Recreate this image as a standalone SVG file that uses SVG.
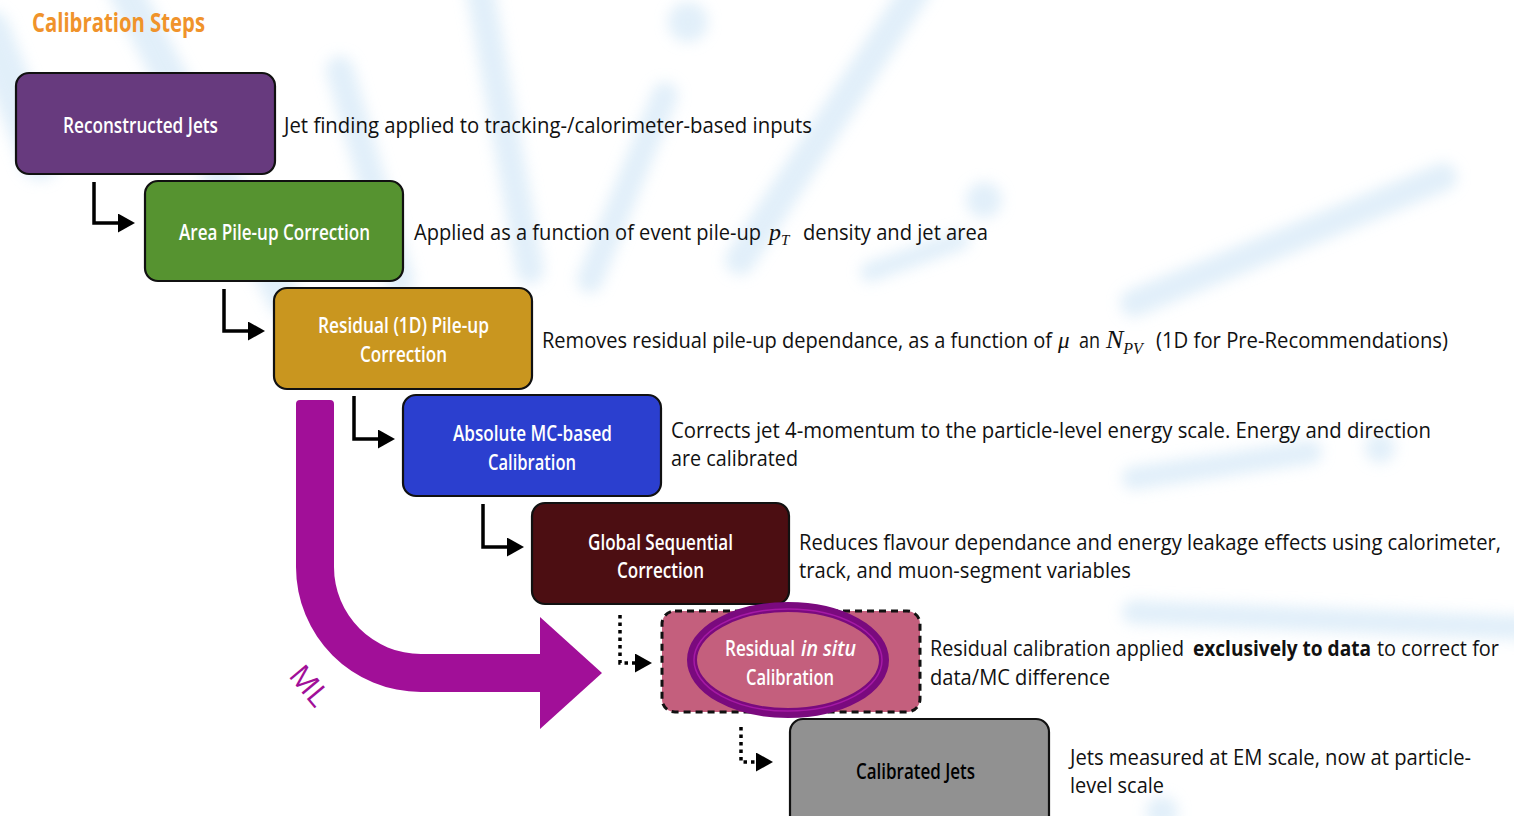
<svg xmlns="http://www.w3.org/2000/svg" width="1514" height="816" viewBox="0 0 1514 816">
<style>
.box{stroke:#111;stroke-width:2.2}
.lbl{font-family:"Open Sans","Liberation Sans",sans-serif;font-weight:600;font-size:22px;fill:#fff}
.dsc{font-family:"Open Sans","Liberation Sans",sans-serif;font-weight:500;font-size:22px;fill:#111}
.math{font-family:"Liberation Serif","DejaVu Serif",serif;font-style:italic;fill:#111}
.conn{fill:none;stroke:#000;stroke-width:3.5}
.dot{fill:none;stroke:#000;stroke-width:3.5;stroke-dasharray:3.5 4}
.bg{fill:none;stroke:#c9e2f5;stroke-linecap:round}
</style>
<defs>
<filter id="blur" x="-20%" y="-20%" width="140%" height="140%"><feGaussianBlur stdDeviation="7"/></filter>
<marker id="ah" viewBox="0 0 17 19" markerWidth="17" markerHeight="19" refX="1" refY="9.5" orient="auto" markerUnits="userSpaceOnUse"><path d="M0,0 L17,9.5 L0,19 Z" fill="#000"/></marker>
</defs>
<rect width="1514" height="816" fill="#fff"/>
<g id="background" filter="url(#blur)" opacity="0.55">
<path class="bg" d="M-10,30 L40,160" stroke-width="40"/>
<path class="bg" d="M125,-10 L285,300" stroke-width="34"/>
<path class="bg" d="M340,70 L400,280" stroke-width="28"/>
<path class="bg" d="M480,-10 L530,270" stroke-width="28"/>
<circle cx="688" cy="22" r="20" fill="#c9e2f5"/>
<path class="bg" d="M665,95 L590,280" stroke-width="26"/>
<path class="bg" d="M916,-10 L740,260" stroke-width="30"/>
<circle cx="984" cy="200" r="18" fill="#c9e2f5"/>
<path class="bg" d="M960,240 L870,272" stroke-width="20"/>
<path class="bg" d="M1443,177 L1134,303" stroke-width="28"/>
<path class="bg" d="M1134,478 L1310,452" stroke-width="24"/>
<circle cx="1380" cy="448" r="15" fill="#c9e2f5"/>
<path class="bg" d="M1134,612 L1530,628" stroke-width="24"/>
<circle cx="1162" cy="812" r="16" fill="#c9e2f5"/>
</g>
<text x="32" y="32" font-family="'Open Sans','Liberation Sans',sans-serif" font-weight="700" font-size="27" fill="#f0932b" textLength="173" lengthAdjust="spacingAndGlyphs">Calibration Steps</text>
<g id="connectors">
<path class="conn" d="M94,182 V223 H119" marker-end="url(#ah)"/>
<path class="conn" d="M224,289 V331 H249" marker-end="url(#ah)"/>
<path class="conn" d="M354,396 V439 H379" marker-end="url(#ah)"/>
<path class="conn" d="M483,504 V547 H508" marker-end="url(#ah)"/>
<path class="dot" d="M620,615 V663 H636" marker-end="url(#ah)"/>
<path class="dot" d="M741,727 V762 H757" marker-end="url(#ah)"/>
</g>
<g id="ml-arrow">
<path d="M296,404 Q296,400 300,400 H330 Q334,400 334,404 V567 A87,87 0 0 0 421,654 H540 V617 L602,673 L540,729 V692 H421 A125,125 0 0 1 296,567 Z" fill="#a10f98"/>
<text transform="translate(309,686) rotate(50)" x="0" y="10" text-anchor="middle" font-family="'Open Sans','Liberation Sans',sans-serif" font-size="30" fill="#a10f98">ML</text>
</g>
<g id="n1">
<rect class="box" x="16" y="73" width="259" height="101" rx="13" fill="#673a7e"/>
<text class="lbl" x="63" y="133" textLength="155" lengthAdjust="spacingAndGlyphs">Reconstructed Jets</text>
<text class="dsc" x="284" y="133" textLength="528" lengthAdjust="spacingAndGlyphs">Jet finding applied to tracking-/calorimeter-based inputs</text>
</g>
<g id="n2">
<rect class="box" x="145" y="181" width="258" height="100" rx="13" fill="#569330"/>
<text class="lbl" x="179" y="240" textLength="191" lengthAdjust="spacingAndGlyphs">Area Pile-up Correction</text>
<text class="dsc" x="414" y="240" textLength="347" lengthAdjust="spacingAndGlyphs">Applied as a function of event pile-up</text>
<text class="math" x="769" y="240" font-size="24">p<tspan font-size="15" dy="5">T</tspan></text>
<text class="dsc" x="803" y="240" textLength="185" lengthAdjust="spacingAndGlyphs">density and jet area</text>
</g>
<g id="n3">
<rect class="box" x="274" y="288" width="258" height="101" rx="13" fill="#c9961f"/>
<text class="lbl" x="318" y="333" textLength="171" lengthAdjust="spacingAndGlyphs">Residual (1D) Pile-up</text>
<text class="lbl" x="360" y="362" textLength="87" lengthAdjust="spacingAndGlyphs">Correction</text>
<text class="dsc" x="542" y="348" textLength="510" lengthAdjust="spacingAndGlyphs">Removes residual pile-up dependance, as a function of</text>
<text class="math" x="1058" y="348" font-size="23">μ</text>
<text class="dsc" x="1079" y="348" textLength="21" lengthAdjust="spacingAndGlyphs">an</text>
<text class="math" x="1106" y="348" font-size="26">N<tspan font-size="16" dy="6">PV</tspan></text>
<text class="dsc" x="1156" y="348" textLength="292" lengthAdjust="spacingAndGlyphs">(1D for Pre-Recommendations)</text>
</g>
<g id="n4">
<rect class="box" x="403" y="395" width="258" height="101" rx="13" fill="#2b3fcf"/>
<text class="lbl" x="453" y="441" textLength="159" lengthAdjust="spacingAndGlyphs">Absolute MC-based</text>
<text class="lbl" x="488" y="470" textLength="88" lengthAdjust="spacingAndGlyphs">Calibration</text>
<text class="dsc" x="671" y="438" textLength="760" lengthAdjust="spacingAndGlyphs">Corrects jet 4-momentum to the particle-level energy scale. Energy and direction</text>
<text class="dsc" x="671" y="466" textLength="127" lengthAdjust="spacingAndGlyphs">are calibrated</text>
</g>
<g id="n5">
<rect class="box" x="532" y="503" width="257" height="101" rx="13" fill="#4c0e12"/>
<text class="lbl" x="588" y="550" textLength="145" lengthAdjust="spacingAndGlyphs">Global Sequential</text>
<text class="lbl" x="617" y="578" textLength="87" lengthAdjust="spacingAndGlyphs">Correction</text>
<text class="dsc" x="799" y="550" textLength="702" lengthAdjust="spacingAndGlyphs">Reduces flavour dependance and energy leakage effects using calorimeter,</text>
<text class="dsc" x="799" y="578" textLength="332" lengthAdjust="spacingAndGlyphs">track, and muon-segment variables</text>
</g>
<g id="n6">
<rect x="662" y="611" width="258" height="101" rx="13" fill="#c45f7d" stroke="#111" stroke-width="3" stroke-dasharray="7 5"/>
<ellipse cx="788" cy="660" rx="96" ry="53" fill="#c45f7d" stroke="#7a0a7e" stroke-width="10"/>
<ellipse cx="788" cy="660" rx="94" ry="51" fill="none" stroke="#a51aa5" stroke-width="1.5"/>
<text class="lbl" x="725" y="656" textLength="70" lengthAdjust="spacingAndGlyphs">Residual</text>
<text class="lbl" x="801" y="656" font-style="italic" font-weight="400" textLength="55" lengthAdjust="spacingAndGlyphs">in situ</text>
<text class="lbl" x="746" y="685" textLength="88" lengthAdjust="spacingAndGlyphs">Calibration</text>
<text class="dsc" x="930" y="656" textLength="254" lengthAdjust="spacingAndGlyphs">Residual calibration applied</text>
<text class="dsc" x="1193" y="656" font-weight="700" style="font-weight:700" textLength="178" lengthAdjust="spacingAndGlyphs">exclusively to data</text>
<text class="dsc" x="1377" y="656" textLength="122" lengthAdjust="spacingAndGlyphs">to correct for</text>
<text class="dsc" x="930" y="685" textLength="180" lengthAdjust="spacingAndGlyphs">data/MC difference</text>
</g>
<g id="n7">
<rect class="box" x="790" y="719" width="259" height="112" rx="13" fill="#919191"/>
<text class="lbl" x="856" y="779" style="fill:#000" textLength="119" lengthAdjust="spacingAndGlyphs">Calibrated Jets</text>
<text class="dsc" x="1070" y="765" textLength="401" lengthAdjust="spacingAndGlyphs">Jets measured at EM scale, now at particle-</text>
<text class="dsc" x="1070" y="793" textLength="94" lengthAdjust="spacingAndGlyphs">level scale</text>
</g>
</svg>
